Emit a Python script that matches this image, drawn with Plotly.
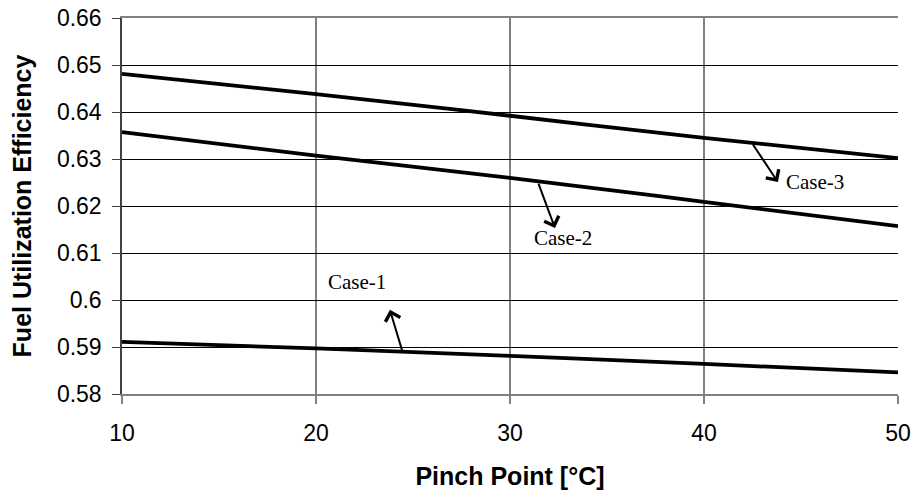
import plotly.graph_objects as go

pinch = [10, 20, 30, 40, 50]
case1 = [0.5911, 0.5897, 0.5881, 0.5864, 0.5846]
case2 = [0.6357, 0.6307, 0.6260, 0.6209, 0.6157]
case3 = [0.6481, 0.6438, 0.6392, 0.6345, 0.6302]
y_ticks = [0.58, 0.59, 0.60, 0.61, 0.62, 0.63, 0.64, 0.65, 0.66]
y_labels = ["0.58", "0.59", "0.6", "0.61", "0.62", "0.63", "0.64", "0.65", "0.66"]
x_ticks = [10, 20, 30, 40, 50]

label_text = ["Case-1", "Case-2", "Case-3"]
label_x = [22.1, 32.75, 45.7]
label_y = [0.6038, 0.6132, 0.6251]
# arrow tail (on line) and head (toward label)
arrow_tail_x = [24.48, 31.44, 42.47]
arrow_tail_y = [0.5887, 0.6251, 0.6334]
arrow_head_x = [23.81, 32.32, 43.81]
arrow_head_y = [0.5979, 0.6153, 0.6251]

fig = go.Figure()
for name, ys in [("Case-1", case1), ("Case-2", case2), ("Case-3", case3)]:
    fig.add_trace(go.Scatter(x=pinch, y=ys, mode="lines", name=name,
                             line=dict(color="black", width=3.8, shape="spline"),
                             showlegend=False))

for hx, hy, tx, ty in zip(arrow_head_x, arrow_head_y, arrow_tail_x, arrow_tail_y):
    fig.add_annotation(x=hx, y=hy, ax=tx, ay=ty,
                       xref="x", yref="y", axref="x", ayref="y",
                       text="", showarrow=True, arrowhead=4, arrowsize=1.5,
                       arrowwidth=2, arrowcolor="black")
for t, lx, ly in zip(label_text, label_x, label_y):
    fig.add_annotation(x=lx, y=ly, text=t, showarrow=False,
                       font=dict(family="Liberation Serif", size=21, color="black"))

fig.update_layout(
    width=918, height=499,
    margin=dict(l=122, r=20, t=18, b=105),
    paper_bgcolor="white", plot_bgcolor="white",
    font=dict(family="Liberation Sans", size=23, color="black"),
    xaxis=dict(range=[10, 50], tickvals=x_ticks, showgrid=True, gridcolor="#808080",
               gridwidth=1.5, showline=True, linecolor="#808080", linewidth=1.5,
               mirror=True, ticks="outside", ticklen=8, tickcolor="#808080",
               tickwidth=1.5, zeroline=False, automargin=False,
               ticklabelstandoff=10,
               title=dict(text="<b>Pinch Point [°C]</b>", standoff=22,
                          font=dict(size=25))),
    yaxis=dict(range=[0.58, 0.66], tickvals=y_ticks, ticktext=y_labels,
               showgrid=True, gridcolor="black", gridwidth=1,
               showline=True, linecolor="#404040", linewidth=1.5,
               ticks="outside", ticklen=8, tickcolor="#404040", zeroline=False,
               automargin=False, ticklabelstandoff=6,
               title=dict(text="<b>Fuel Utilization Efficiency</b>", standoff=18,
                          font=dict(size=25))),
)

fig.write_html("out.html", config={"displayModeBar": False},
               post_script="document.body.style.margin='0';")
